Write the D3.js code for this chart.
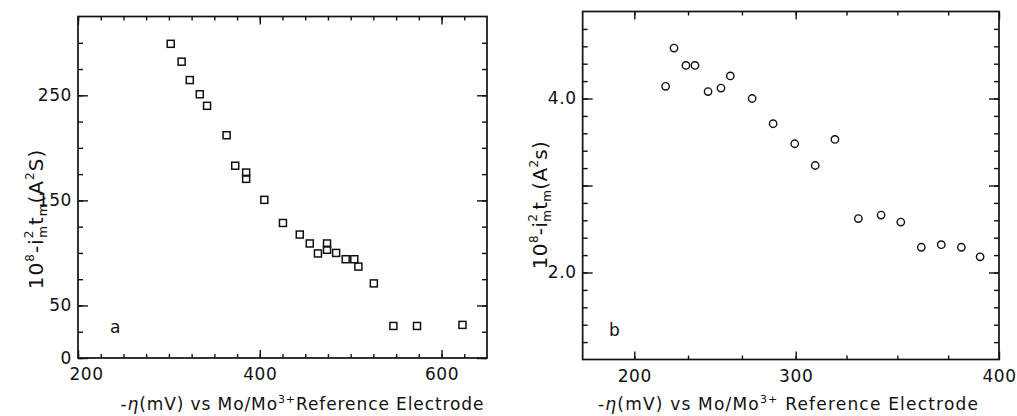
<!DOCTYPE html>
<html>
<head>
<meta charset="utf-8">
<script src="https://cdn.jsdelivr.net/npm/d3@7"></script>
<style>
  html, body { margin: 0; padding: 0; background: #fff; }
  svg text { font-family: "DejaVu Sans", sans-serif; fill: #111; }
</style>
</head>
<body>
<svg id="fig" width="1017" height="416"></svg>
<script>
// Panel a: squares
const etaA = [302, 314, 323, 334, 342, 363.5, 373, 385, 385, 405, 425.5, 444, 455, 464, 474, 474, 484, 494.5, 504, 508.5, 525.5, 547, 573, 623];
const valA = [299, 282, 264.5, 251, 240, 212, 183, 176.5, 170.5, 150.5, 128.5, 117.5, 109, 99.5, 109, 103, 100, 94, 94, 87, 71, 30.5, 30.5, 31.5];

// Panel b: circles
const etaB = [219.4, 224.6, 232, 237.6, 245.7, 253.7, 259.5, 273, 286, 299.4, 309.6, 319.3, 330.8, 342, 351.7, 361.8, 371.6, 381.5, 390.7];
const valB = [4.14, 4.58, 4.38, 4.38, 4.08, 4.12, 4.26, 4.0, 3.71, 3.48, 3.23, 3.53, 2.62, 2.66, 2.58, 2.29, 2.32, 2.29, 2.18];

// Axis ticks
const xTicksA = [200, 225, 250, 275, 300, 325, 350, 375, 400, 425, 450, 475, 500, 525, 550, 575, 600, 625];
const xMajorA = [200, 400, 600];
const yTicksA = [0, 25, 50, 75, 100, 125, 150, 175, 200, 225, 250, 275, 300];
const yMajorA = [0, 50, 150, 250];
const yLabelsA = ["0", "50", "150", "250"];

const xTicksB = [200, 233.3, 266.7, 300, 325, 350, 375];
const xMajorB = [200, 300, 400];
const yTicksB = [1.2, 1.4, 1.6, 1.8, 2.0, 2.2, 2.4, 2.6, 2.8, 3.0, 3.2, 3.4, 3.6, 3.8, 4.0, 4.2, 4.4, 4.6, 4.8];
const yMajorB = [2.0, 3.0, 4.0];
const yLabelsB = ["2.0", "4.0"];

const svg = d3.select("#fig");

// scales
const xA = d3.scaleLinear().domain([200, 650]).range([78, 487]);
const yA = d3.scaleLinear().domain([0, 325]).range([358, 16.5]);
const xB = d3.scaleLinear().domain([200, 300, 400]).range([634.3, 795.7, 999]);
const yB = d3.scaleLinear().domain([1, 5]).range([359.5, 11.5]);

function frameAndTicks(x, y, xLo, xHi, yLo, yHi, xTicks, xMajor, yTicks, yMajor, yLabelFmt) {
  const g = svg.append("g");
  const L = x(xLo), R = x(xHi), T = y(yHi), B = y(yLo);
  const mk = (axis, tr) => g.append("g").attr("transform", tr).call(axis)
    .call(s => s.select(".domain").remove())
    .call(s => s.selectAll(".tick line").attr("stroke", "#111").attr("stroke-width", 1.4));

  // minor + major ticks on all four sides, pointing inward
  mk(d3.axisBottom(x).tickValues(xTicks).tickSize(-4).tickFormat(""), `translate(0,${B})`);
  mk(d3.axisTop(x).tickValues(xTicks).tickSize(-4).tickFormat(""), `translate(0,${T})`);
  mk(d3.axisLeft(y).tickValues(yTicks).tickSize(-5).tickFormat(""), `translate(${L},0)`);
  mk(d3.axisRight(y).tickValues(yTicks).tickSize(-5).tickFormat(""), `translate(${R},0)`);
  mk(d3.axisTop(x).tickValues(xMajor).tickSize(-8).tickFormat(""), `translate(0,${T})`);
  mk(d3.axisRight(y).tickValues(yMajor).tickSize(-10).tickFormat(""), `translate(${R},0)`);

  const bx = mk(d3.axisBottom(x).tickValues(xMajor).tickSize(-8).tickPadding(10), `translate(0,${B})`);
  bx.selectAll("text").attr("font-size", 17).attr("fill", "#111").attr("letter-spacing", 0.6);

  const ly = mk(d3.axisLeft(y).tickValues(yMajor).tickSize(-10).tickPadding(6).tickFormat(yLabelFmt), `translate(${L},0)`);
  ly.selectAll("text").attr("font-size", 17).attr("fill", "#111").attr("letter-spacing", 0.6);

  g.append("rect").attr("x", L).attr("y", T).attr("width", R - L).attr("height", B - T)
    .attr("fill", "none").attr("stroke", "#111").attr("stroke-width", 1.7);
  return { g, bx, ly };
}

// ---------- panel a ----------
const pa = frameAndTicks(xA, yA, 200, 650, 0, 325, xTicksA, xMajorA, yTicksA, yMajorA,
  d => { const i = yMajorA.indexOf(d); return i >= 0 ? yLabelsA[i] : ""; });
pa.bx.selectAll("text").filter(d => d === 200).attr("dx", 8);

svg.append("g").selectAll("rect").data(etaA.map((e, i) => [e, valA[i]])).join("rect")
  .attr("x", d => xA(d[0]) - 3.5).attr("y", d => yA(d[1]) - 3.5)
  .attr("width", 7).attr("height", 7)
  .attr("fill", "none").attr("stroke", "#111").attr("stroke-width", 1.5);

svg.append("text").attr("x", 110).attr("y", 333).attr("font-size", 17).text("a");

// ---------- panel b ----------
const pb = frameAndTicks(xB, yB, 168, 400, 1, 5, xTicksB, xMajorB, yTicksB, yMajorB,
  d => { const s = d.toFixed(1); return yLabelsB.includes(s) ? s : ""; });

svg.append("g").selectAll("circle").data(etaB.map((e, i) => [e, valB[i]])).join("circle")
  .attr("cx", d => xB(d[0])).attr("cy", d => yB(d[1])).attr("r", 3.7)
  .attr("fill", "none").attr("stroke", "#111").attr("stroke-width", 1.4);

svg.append("text").attr("x", 609).attr("y", 336).attr("font-size", 17).text("b");

// ---------- axis titles ----------
function xTitle(cx, cy, len, gap) {
  const t = svg.append("text").attr("x", cx).attr("y", cy).attr("text-anchor", "middle")
    .attr("font-size", 17).attr("textLength", len).attr("lengthAdjust", "spacing");
  t.append("tspan").text("-");
  t.append("tspan").attr("font-style", "italic").text("η");
  t.append("tspan").text("(mV) vs Mo/Mo");
  t.append("tspan").attr("font-size", 11).attr("dy", -7).text("3+");
  t.append("tspan").attr("dy", 7).text((gap ? " " : "") + "Reference Electrode");
}
xTitle(302, 410, 363, false);
xTitle(788, 410, 380, true);

function yTitle(cx, cy, last, ls) {
  const t = svg.append("text").attr("transform", `translate(${cx},${cy}) rotate(-90)`)
    .attr("text-anchor", "middle").attr("font-size", 20).attr("letter-spacing", ls);
  t.append("tspan").text("10");
  t.append("tspan").attr("font-size", 12).attr("dy", -9).text("8");
  t.append("tspan").attr("dy", 9).text("-i");
  t.append("tspan").attr("font-size", 12).attr("dy", -10).text("2");
  t.append("tspan").attr("font-size", 12).attr("dx", -8).attr("dy", 14).text("m");
  t.append("tspan").attr("dy", -4).text("t");
  t.append("tspan").attr("font-size", 12).attr("dy", 4).text("m");
  t.append("tspan").attr("dy", -4).text("(A");
  t.append("tspan").attr("font-size", 12).attr("dy", -9).text("2");
  t.append("tspan").attr("dy", 9).text(last + ")");
}
yTitle(43, 219, "S", 1);
yTitle(547, 205, "s", 0.3);
</script>
</body>
</html>
